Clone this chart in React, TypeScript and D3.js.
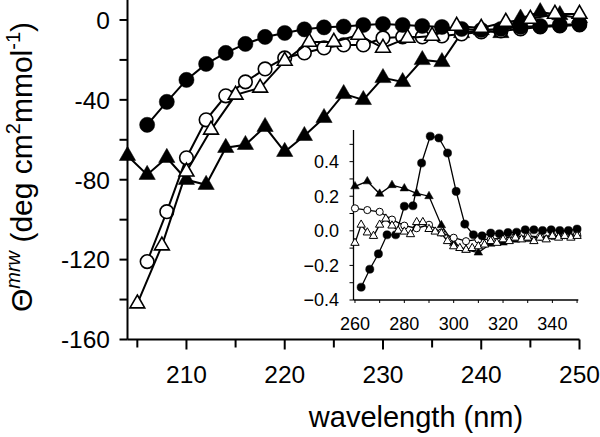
import React from "react";
import * as d3 from "d3";

// ---------- main panel data ----------
const wlFilledCircle = [206, 208, 210, 212, 214, 216, 218, 220, 222, 224, 226, 228, 230, 232, 234, 236, 238, 240, 242, 244, 246, 248, 250];
const filledCircle = [-52.5, -41, -30, -22, -16.5, -12, -8.5, -6.5, -4.7, -3.7, -3.3, -2.5, -2, -2.5, -3, -3.5, -4.5, -5, -4.5, -3.5, -3, -2.5, -2];

const wlOpenCircle = [206, 208, 210, 212, 214, 216, 218, 220, 222, 224, 226, 228, 230, 232, 234, 236, 238, 240, 242, 244, 246, 248, 250];
const openCircle = [-121, -96, -69, -50, -38, -31, -24.5, -19, -16.5, -14, -12.5, -12.5, -9, -8.5, -8.5, -8, -7, -6, -5.5, -4.5, -3.5, -3, -2.5];

const wlOpenTriangle = [205, 207.5, 210, 212.5, 215, 217.5, 220, 222.5, 225, 227.5, 230, 232.5, 235, 237.5, 240, 242.5, 245, 247.5, 250];
const openTriangle = [-142, -113, -76, -55, -37.5, -34, -20.5, -11, -11, -7.5, -14, -9, -8, -3, -4, -1, 0.5, 3, 3];

const wlFilledTriangle = [204, 206, 208, 210, 212, 214, 216, 218, 220, 222, 224, 226, 228, 230, 232, 234, 236, 238, 240, 242, 244, 246, 248, 250];
const filledTriangle = [-68, -77.5, -69, -80, -82.5, -64, -62.5, -53.5, -66, -58, -49, -37, -40, -29, -31, -20, -21, -6.5, -5, -6.5, 0.8, 4, 2.5, 1];

const mainXTicks = [210, 220, 230, 240, 250];
const mainXMinor = [205, 215, 225, 235, 245];
const mainYTicks = [0, -40, -80, -120, -160];
const mainYMinor = [-20, -60, -100, -140];

// ---------- inset data ----------
const inWlFilledCircle = [262.5, 266, 269.5, 273, 276.5, 280, 283.5, 287, 290.5, 294, 297.5, 301, 304.5, 308, 311.5, 315, 318.5, 322, 325.5, 329, 332.5, 336, 339.5, 343, 346.5, 350];
const inFilledCircle = [-0.326, -0.222, -0.133, -0.023, -0.023, 0.142, 0.145, 0.392, 0.547, 0.537, 0.45, 0.228, 0.039, -0.023, -0.029, -0.013, -0.017, -0.01, -0.008, 0.006, 0.006, 0.002, 0.006, 0.002, 0.002, 0.01];

const inWlFilledTriangle = [260, 265, 270, 275, 280, 285, 290, 295, 300, 305, 310, 315, 320, 325, 330, 335, 340, 345, 350];
const inFilledTriangle = [0.257, 0.286, 0.214, 0.264, 0.245, 0.216, 0.2, 0.032, -0.071, -0.11, -0.126, -0.075, -0.068, -0.052, -0.048, -0.033, -0.029, -0.023, -0.017];

const inWlOpenCircle = [260, 265, 270, 275, 280, 285, 290, 295, 300, 305, 310, 315, 320, 325, 330, 335, 340, 345, 350];
const inOpenCircle = [0.13, 0.12, 0.11, 0.065, 0.03, 0.015, 0.035, -0.01, -0.04, -0.06, -0.05, -0.05, -0.04, -0.035, -0.03, -0.035, -0.03, -0.025, -0.02];

const inWlOpenTriangle = [260, 262.5, 265, 267.5, 270, 272.5, 275, 277.5, 280, 282.5, 285, 287.5, 290, 292.5, 295, 297.5, 300, 302.5, 305, 307.5, 310, 312.5, 315, 317.5, 320, 322.5, 325, 327.5, 330, 332.5, 335, 337.5, 340, 342.5, 345, 347.5, 350];
const inOpenTriangle = [-0.07, 0.035, -0.01, -0.03, 0.035, 0.07, 0.03, 0.0, -0.005, -0.02, 0.05, 0.05, 0.01, -0.005, -0.015, -0.06, -0.09, -0.1, -0.11, -0.1, -0.09, -0.08, -0.06, -0.07, -0.05, -0.06, -0.04, -0.05, -0.04, -0.06, -0.04, -0.05, -0.03, -0.04, -0.03, -0.04, -0.03];

const inXTicks = [260, 270, 280, 290, 300, 310, 320, 330, 340, 350];
const inXLabels = [260, 280, 300, 320, 340];
const inYTicks = [-0.4, -0.3, -0.2, -0.1, 0, 0.1, 0.2, 0.3, 0.4, 0.5];
const inYLabels = [-0.4, -0.2, 0, 0.2, 0.4];

const FONT = "'Liberation Sans', Arial, Helvetica, sans-serif";

type Series = { xs: number[]; ys: number[]; shape: "circle" | "triangle"; filled: boolean };

export default function App() {
  const W = 600, H = 437;
  const x = d3.scaleLinear().domain([204, 250]).range([127.5, 579.5]);
  const y = d3.scaleLinear().domain([-160, 10]).range([339.5, 0]);
  const xi = d3.scaleLinear().domain([259.4, 350.5]).range([353.5, 578.3]);
  const yi = d3.scaleLinear().domain([-0.4, 0.583]).range([300, 130]);

  const mainSeries: Series[] = [
    { xs: wlFilledTriangle, ys: filledTriangle, shape: "triangle", filled: true },
    { xs: wlOpenCircle, ys: openCircle, shape: "circle", filled: false },
    { xs: wlFilledCircle, ys: filledCircle, shape: "circle", filled: true },
    { xs: wlOpenTriangle, ys: openTriangle, shape: "triangle", filled: false },
  ];
  const insetSeries: Series[] = [
    { xs: inWlFilledTriangle, ys: inFilledTriangle, shape: "triangle", filled: true },
    { xs: inWlOpenCircle, ys: inOpenCircle, shape: "circle", filled: false },
    { xs: inWlFilledCircle, ys: inFilledCircle, shape: "circle", filled: true },
    { xs: inWlOpenTriangle, ys: inOpenTriangle, shape: "triangle", filled: false },
  ];

  const renderSeries = (
    s: Series, i: number, sx: d3.ScaleLinear<number, number>, sy: d3.ScaleLinear<number, number>,
    lw: number, sizes: { cf: number; co: number; tf: number; to: number }, sw: number
  ) => {
    const pts: [number, number][] = s.xs.map((v, k) => [sx(v), sy(s.ys[k])]);
    const line = d3.line()(pts) || "";
    const size = s.shape === "circle" ? (s.filled ? sizes.cf : sizes.co) : (s.filled ? sizes.tf : sizes.to);
    const sym = d3.symbol().type(s.shape === "circle" ? d3.symbolCircle : d3.symbolTriangle).size(size)() || "";
    return (
      <g key={i}>
        <path d={line} fill="none" stroke="#000" strokeWidth={lw} />
        {pts.map((p, k) => (
          <path key={k} d={sym} transform={`translate(${p[0]},${p[1]})`}
            fill={s.filled ? "#000" : "#fff"} stroke="#000" strokeWidth={s.filled ? 0.5 : sw} />
        ))}
      </g>
    );
  };

  return (
    <svg width={W} height={H} style={{ position: "absolute", left: 0, top: 0, background: "#fff" }}
      fontFamily={FONT}>
      <rect x={0} y={0} width={W} height={H} fill="#fff" />
      {/* main axes */}
      <line x1={x(204)} x2={x(204)} y1={y(10)} y2={y(-160)} stroke="#000" strokeWidth={2} />
      <line x1={x(204)} x2={x(250)} y1={y(-160)} y2={y(-160)} stroke="#000" strokeWidth={2} />
      {mainYTicks.map((t) => (
        <g key={"yt" + t}>
          <line x1={x(204) - 8} x2={x(204)} y1={y(t)} y2={y(t)} stroke="#000" strokeWidth={2} />
          <text x={110} y={y(t)} dy="0.36em" textAnchor="end" fontSize={24.5}>{t}</text>
        </g>
      ))}
      {mainYMinor.map((t) => (
        <line key={"ym" + t} x1={x(204) - 8} x2={x(204)} y1={y(t)} y2={y(t)} stroke="#000" strokeWidth={2} />
      ))}
      {mainXTicks.map((t) => (
        <g key={"xt" + t}>
          <line x1={x(t)} x2={x(t)} y1={y(-160)} y2={y(-160) + 10} stroke="#000" strokeWidth={2} />
          <text x={x(t)} y={383} textAnchor="middle" fontSize={24.5}>{t}</text>
        </g>
      ))}
      {mainXMinor.map((t) => (
        <line key={"xm" + t} x1={x(t)} x2={x(t)} y1={y(-160)} y2={y(-160) + 8} stroke="#000" strokeWidth={2} />
      ))}
      <text x={416} y={427} textAnchor="middle" fontSize={29}>wavelength (nm)</text>
      <text transform="translate(31.5,167) rotate(-90)" textAnchor="middle" fontSize={30}>
        <tspan>Θ</tspan>
        <tspan fontSize={20} fontStyle="italic" dy={-12}>mrw</tspan>
        <tspan dy={12}> (deg cm</tspan>
        <tspan fontSize={20} dy={-12}>2</tspan>
        <tspan dy={12}>mmol</tspan>
        <tspan fontSize={20} dy={-12}>-1</tspan>
        <tspan dy={12}>)</tspan>
      </text>

      {mainSeries.map((s, i) => renderSeries(s, i, x, y, 2, { cf: 180, co: 145, tf: 115, to: 95 }, 1.6))}

      {/* inset axes */}
      <line x1={xi(259.4)} x2={xi(259.4)} y1={yi(0.583)} y2={yi(-0.4)} stroke="#000" strokeWidth={1.3} />
      <line x1={xi(259.4)} x2={xi(350.5)} y1={yi(-0.4)} y2={yi(-0.4)} stroke="#000" strokeWidth={1.3} />
      {inYTicks.map((t) => (
        <line key={"iyt" + t} x1={xi(259.4) - 4} x2={xi(259.4)} y1={yi(t)} y2={yi(t)} stroke="#000" strokeWidth={1} />
      ))}
      {inYLabels.map((t) => (
        <text key={"iyl" + t} x={339} y={yi(t)} dy="0.36em" textAnchor="end" fontSize={18}>{d3.format(".1f")(t)}</text>
      ))}
      {inXTicks.map((t) => (
        <line key={"ixt" + t} x1={xi(t)} x2={xi(t)} y1={yi(-0.4)} y2={yi(-0.4) + 3} stroke="#000" strokeWidth={1} />
      ))}
      {inXLabels.map((t) => (
        <text key={"ixl" + t} x={xi(t)} y={330} textAnchor="middle" fontSize={18}>{t}</text>
      ))}
      {insetSeries.map((s, i) => renderSeries(s, i, xi, yi, 1.3, { cf: 52, co: 40, tf: 32, to: 30 }, 1))}
    </svg>
  );
}
